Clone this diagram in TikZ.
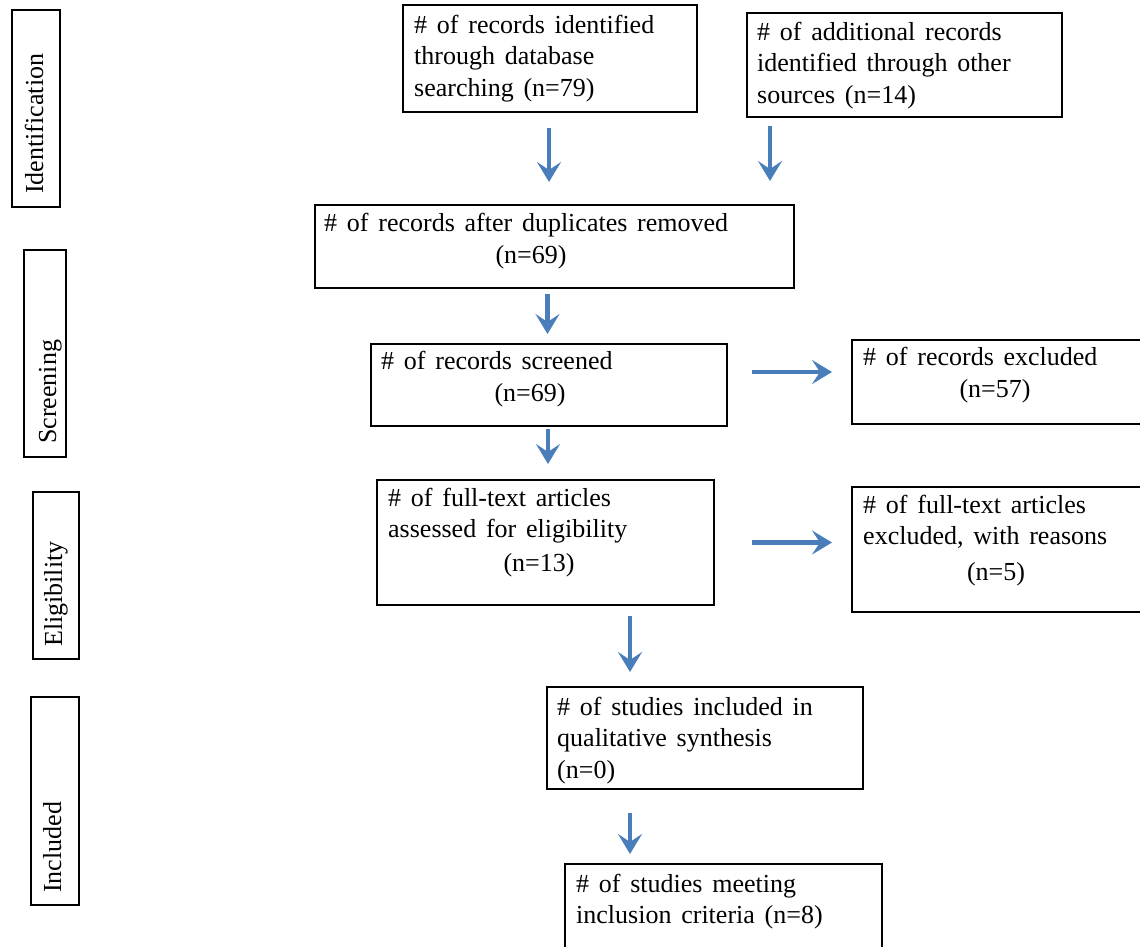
\documentclass[tikz,border=0pt]{standalone}
\usepackage{fontspec}
\setmainfont{Liberation Serif}[WordSpace=1.5]
\usetikzlibrary{calc,fit,arrows.meta}
\definecolor{arrblue}{HTML}{4A7EBB}
\begin{document}
\begin{tikzpicture}[x=1pt,y=-1pt,
  box/.style={draw=black, line width=2pt, inner sep=0pt},
  txt/.style={inner sep=0pt, align=left, anchor=north west, font=\fontsize{26}{31.5}\selectfont},
  ctxt/.style={inner sep=0pt, anchor=base, font=\fontsize{26}{31.5}\selectfont},
  side/.style={inner sep=0pt, rotate=90, anchor=base west, font=\fontsize{26}{31.5}\selectfont},
  arr/.style={draw=arrblue, line width=4.5pt, -{Stealth[length=20pt,width=24pt,inset=8pt]}}]
\useasboundingbox (0,0) rectangle (1140,947);
\clip (0,0) rectangle (1140,947);
% phase boxes
\node[box, fit={(12,10)(60,207)}] (P1) {};
\node[box, fit={(24,250)(66,457)}] (P2) {};
\node[box, fit={(33,492)(79,659)}] (P3) {};
\node[box, fit={(31,697)(79,905)}] (P4) {};
\node[side] (P1t) at (43,194) {Identification};
\node[side] (P2t) at (56,444) {Screening};
\node[side] (P3t) at (62,647) {Eligibility};
\node[side] (P4t) at (61,893) {Included};
% flow boxes
\node[box, fit={(403,5)(697,112)}] (A) {};
\node[box, fit={(747,13)(1062,117)}] (B) {};
\node[box, fit={(315,205)(794,288)}] (C) {};
\node[box, fit={(371,344)(727,426)}] (D) {};
\node[box, fit={(852,340)(1160,424)}] (E) {};
\node[box, fit={(377,480)(714,605)}] (F) {};
\node[box, fit={(852,487)(1160,612)}] (G) {};
\node[box, fit={(547,687)(863,789)}] (H) {};
\node[box, fit={(565,864)(882,970)}] (I) {};
% texts (strut height 22pt: top = baseline - 22)
\node[txt] (At) at ($(A.north west)+(12,7)$) {\strut\# of records identified\\through database\\searching (n=79)};
\node[txt] (Bt) at ($(B.north west)+(11,6)$) {\strut\# of additional records\\identified through other\\sources (n=14)};
\node[txt] (Ct) at ($(C.north west)+(10,5)$) {\strut\# of records after duplicates removed};
\node[ctxt] (Cn) at (531,263) {(n=69)};
\node[txt] (Dt) at ($(D.north west)+(11,4)$) {\strut\# of records screened};
\node[ctxt] (Dn) at (530,401) {(n=69)};
\node[txt] (Et) at ($(E.north west)+(12,4)$) {\strut\# of records excluded};
\node[ctxt] (En) at (995,397) {(n=57)};
\node[txt] (Ft) at ($(F.north west)+(12,5)$) {\strut\# of full-text articles\\assessed for eligibility};
\node[ctxt] (Fn) at (539,571) {(n=13)};
\node[txt] (Gt) at ($(G.north west)+(12,5)$) {\strut\# of full-text articles\\excluded, with reasons};
\node[ctxt] (Gn) at (996,580) {(n=5)};
\node[txt] (Ht) at ($(H.north west)+(11,7)$) {\strut\# of studies included in\\qualitative synthesis\\(n=0)};
\node[txt] (It) at ($(I.north west)+(12,7)$) {\strut\# of studies meeting\\inclusion criteria (n=8)};
% arrows
\draw[arr] ($(A.south)+(-1,15)$) -- ($(A.south |- C.north)+(-1,-22)$);
\draw[arr] ($(B.south west)+(24,8)$) -- ($(B.south west |- C.north)+(24,-23)$);
\draw[arr] ($(C.south)+(-7,5)$) -- ($(C.south |- D.north)+(-7,-9)$);
\draw[arr] ($(D.east)+(24,-13)$) -- ($(E.west |- D.east)+(-19,-13)$);
\draw[arr] ($(D.south)+(-1,2)$) -- ($(D.south |- F.north)+(-1,-15)$);
\draw[arr] ($(F.east)+(37,0)$) -- ($(G.west |- F.east)+(-19,0)$);
\draw[arr] ($(F.south)+(84.5,10)$) -- ($(F.south |- H.north)+(84.5,-14)$);
\draw[arr] ($(H.south)+(-75,23)$) -- ($(H.south |- I.north)+(-75,-9)$);
\end{tikzpicture}
\end{document}
